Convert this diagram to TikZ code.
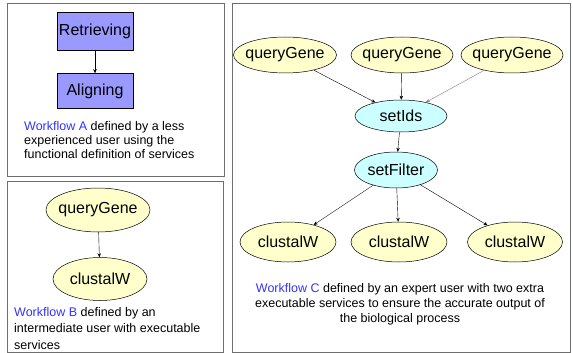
\documentclass[tikz,border=0pt]{standalone}
\usepackage{fontspec}
\setmainfont{Liberation Sans}
\usetikzlibrary{shapes.geometric,arrows.meta}
\definecolor{panelgray}{HTML}{6E6E6E}
\definecolor{rectfill}{HTML}{9999FF}
\definecolor{yelfill}{HTML}{FFFFCC}
\definecolor{cyanfill}{HTML}{CCFFFF}
\definecolor{wfblue}{HTML}{3333FF}
\tikzset{
  panel/.style={draw=panelgray, line width=1pt},
  rectnode/.style={rectangle, draw=black, line width=0.5pt, fill=rectfill, minimum width=76pt, font=\fontsize{16}{19}\selectfont, inner sep=0pt},
  yelnode/.style={ellipse, draw=black, line width=0.5pt, fill=yelfill, font=\fontsize{16}{19}\selectfont, inner xsep=-8pt, inner ysep=0pt},
  cyannode/.style={ellipse, draw=black, line width=0.5pt, fill=cyanfill, font=\fontsize{16}{19}\selectfont, inner xsep=-8pt, inner ysep=0pt},
  conn/.style={-{Stealth[length=4pt,width=3.5pt]}, line width=0.4pt, black},
  desc/.style={inner sep=0pt, font=\fontsize{12.5}{14}\selectfont}
}
\begin{document}
\begin{tikzpicture}[x=1pt,y=-1pt]
\useasboundingbox (0,0) rectangle (573,353);
% panels
\draw[panel] (7,4) rectangle (224,176);
\draw[panel] (7,181) rectangle (223,352);
\draw[panel] (232,4) rectangle (570,352);
% Workflow A
\node[rectnode, minimum height=38pt] (ret) at (95,31) {Retrieving};
\node[rectnode, minimum height=35pt] (ali) at (95,91) {Aligning};
\draw[conn] (ret) -- (ali);
\node[desc, anchor=north west, align=left] (descA) at (24,121.5)
  {\textcolor{wfblue}{Workflow A} defined by a less\\experienced user using the\\functional definition of services};
% Workflow B
\node[yelnode, minimum width=104pt, minimum height=44pt] (bq) at (98,210) {queryGene};
\node[yelnode, minimum width=94pt, minimum height=43pt] (bc) at (100,279) {clustalW};
\draw[conn] (bq) -- (bc);
\node[desc, anchor=north west, align=left, font=\fontsize{12.5}{16.5}\selectfont] (descB) at (14,307)
  {\textcolor{wfblue}{Workflow B} defined by an\\intermediate user with executable\\services};
% Workflow C
\node[yelnode, minimum width=103pt, minimum height=36pt] (q1) at (285,55) {queryGene};
\node[yelnode, minimum width=102pt, minimum height=36pt] (q2) at (402,55) {queryGene};
\node[yelnode, minimum width=102pt, minimum height=36pt] (q3) at (512,55) {queryGene};
\node[cyannode, minimum width=92pt, minimum height=32pt] (ids) at (401,116) {setIds};
\node[cyannode, minimum width=83pt, minimum height=36pt] (filt) at (396,170) {setFilter};
\node[yelnode, minimum width=96pt, minimum height=40pt] (c1) at (288,242) {clustalW};
\node[yelnode, minimum width=96pt, minimum height=40pt] (c2) at (399,242) {clustalW};
\node[yelnode, minimum width=95pt, minimum height=40pt] (c3) at (515,242) {clustalW};
\draw[conn] (q1) -- (ids);
\draw[conn] (q2) -- (ids);
\draw[conn, draw=gray] (q3) -- (ids);
\draw[conn] (ids) -- (filt);
\draw[conn] (filt) -- (c1);
\draw[conn] (filt) -- (c2);
\draw[conn] (filt) -- (c3);
\node[desc, anchor=north, align=center, font=\fontsize{12.5}{15}\selectfont] (descC) at (400,283)
  {\textcolor{wfblue}{Workflow C} defined by an expert user with two extra\\executable services to ensure the accurate output of\\the biological process};
\end{tikzpicture}
\end{document}
